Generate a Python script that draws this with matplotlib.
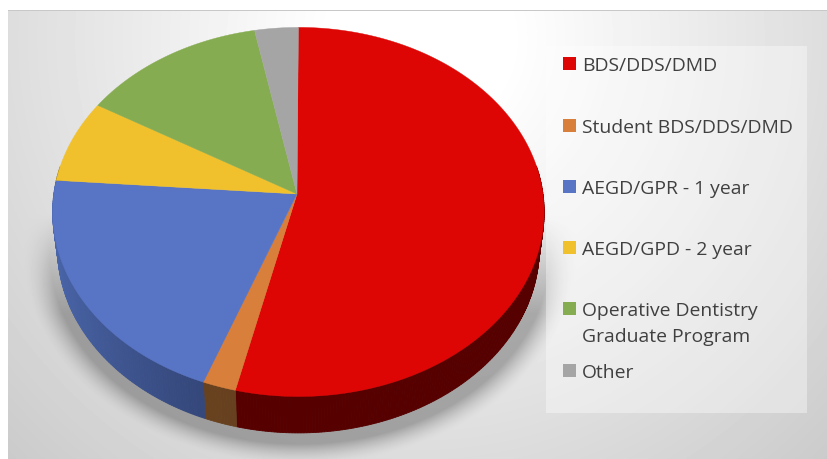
import numpy as np
import matplotlib
matplotlib.use("Agg")
import matplotlib.pyplot as plt
from matplotlib.patches import Rectangle, Polygon
from matplotlib.colors import to_rgb

categories = ["BDS/DDS/DMD", "Student BDS/DDS/DMD", "AEGD/GPR - 1 year",
              "AEGD/GPD - 2 year", "Operative Dentistry\nGraduate Program", "Other"]
values = [53.75, 2.0, 20.45, 7.3, 13.35, 3.15]
colors = ["#dd0605", "#d97f3c", "#5874c4", "#f0c12c", "#86ac52", "#a5a5a5"]
side_light = ["#600000", "#75481f", "#4a66aa", "#8a6d10", "#4d6a2c", "#666666"]
side_dark = ["#560000", "#65401f", "#2f3f6e", "#8a6d10", "#4d6a2c", "#666666"]
legend_y = [64, 126, 187, 248, 309, 371]

W, H = 828, 460
fig = plt.figure(figsize=(W / 100, H / 100), dpi=100)
ax = fig.add_axes([0, 0, 1, 1])
ax.set_xlim(0, W)
ax.set_ylim(H, 0)
ax.axis("off")

# background gradient and soft shadow
yy, xx = np.mgrid[0.5:H, 0.5:W]
d = np.hypot(xx - 420, yy - 40)
bg = np.clip(258 - 0.105 * np.maximum(d - 60, 0), 0, 255)
bg[(yy < 11) | (xx < 8)] = 255
bg[(yy >= 11) & (yy < 12.5) & (xx >= 8)] = 200
rho = np.hypot((xx - 300) / 250, (yy - 254) / 191)
sh = np.clip((1.11 - rho) / 0.11, 0, 1) ** 1.6 * 0.28
sh *= np.clip((yy - 215) / 100, 0, 1)
bg = bg * (1 - sh)
ax.imshow(bg, cmap="gray", vmin=0, vmax=255, extent=(0, W, H, 0), zorder=0,
          aspect="auto", interpolation="bilinear")

# pie geometry (perspective view of a disc)
CX, CY, A, B, C = 297.0, 195.0, 182.8, 244.6, 0.0973
RIM_DX = 1.4


def project(t):
    x, y = np.sin(t), np.cos(t)
    w = 1 + C * y
    return CX + RIM_DX + B * x / w, CY - A * y / w


def lower(px, py):
    return 298.5 + 0.98 * (px - 298.5), py + 36.4


edges = np.concatenate([[0], np.cumsum(values)]) / np.sum(values) * 2 * np.pi

# side wall
for i in range(len(values)):
    n = max(int((edges[i + 1] - edges[i]) * 90), 2)
    ts = np.linspace(edges[i], edges[i + 1], n + 1)
    c0, c1 = np.array(to_rgb(side_dark[i])), np.array(to_rgb(side_light[i]))
    for k in range(n):
        tm = 0.5 * (ts[k] + ts[k + 1])
        if np.cos(tm) > 0.15:
            continue
        t2 = np.array([ts[k], ts[k + 1]])
        px, py = project(t2)
        qx, qy = lower(px, py)
        f = np.clip(-np.sin(tm), 0, 1) ** 1.5
        col = c0 + (c1 - c0) * f
        ax.add_patch(Polygon(np.c_[np.r_[px, qx[::-1]], np.r_[py, qy[::-1]]],
                             closed=True, fc=col, ec=col, lw=0.6, zorder=2))

# top face
for i in range(len(values)):
    ts = np.linspace(edges[i], edges[i + 1], 200)
    px, py = project(ts)
    ax.add_patch(Polygon(np.c_[np.r_[CX, px], np.r_[CY, py]], closed=True,
                         fc=colors[i], ec=colors[i], lw=0.3, zorder=3))

# legend
ax.add_patch(Rectangle((546, 47), 261, 367, fc="white", alpha=0.38, ec="none", zorder=1))
for c, y, label in zip(colors, legend_y, categories):
    ax.add_patch(Rectangle((563.5, y - 6.5), 13, 13, fc=c, ec="none", zorder=4))
    ax.text(582, y - 7, label, family="Open Sans", fontsize=13.95, color="#404040",
            va="top", ha="left", linespacing=1.58, zorder=4)

fig.savefig("out.png", dpi=100)
